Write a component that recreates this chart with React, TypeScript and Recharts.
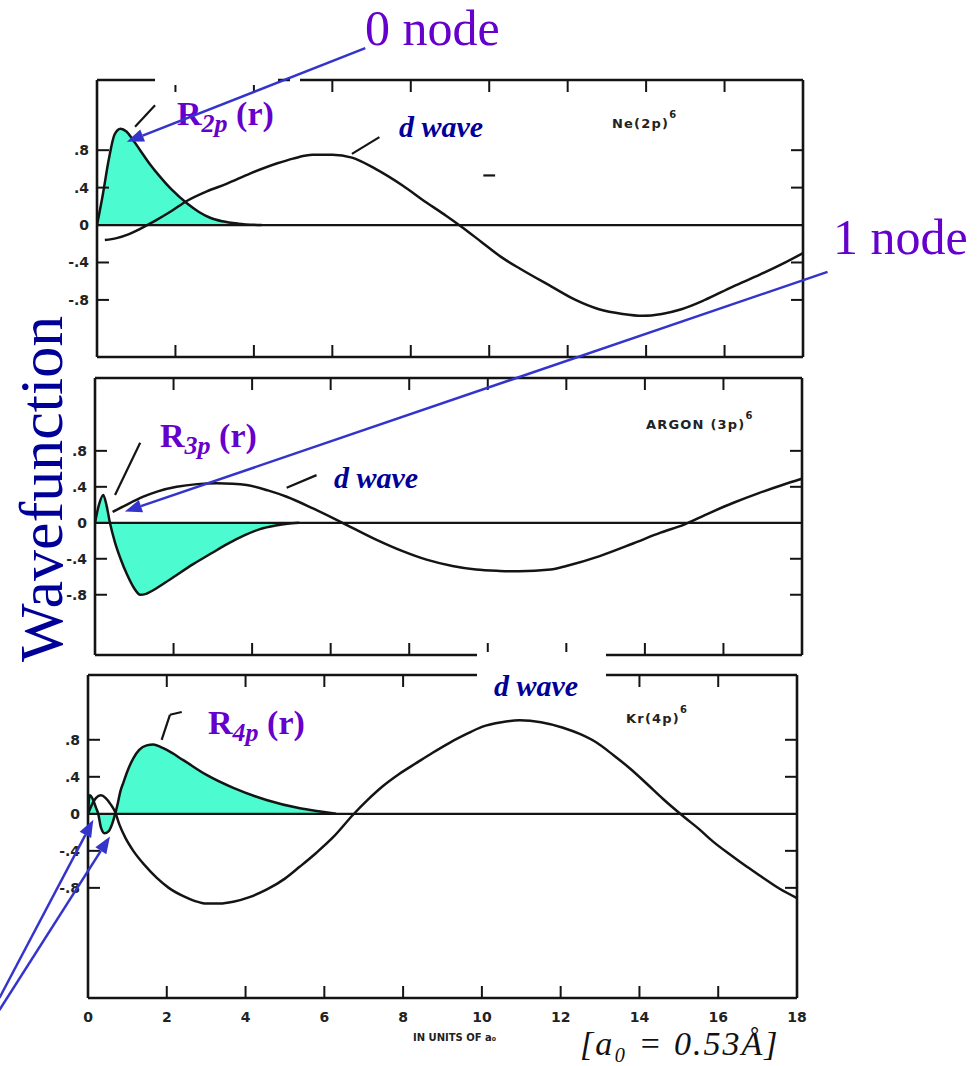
import React from 'react';
import { ComposedChart, Area, Line, XAxis, YAxis, ReferenceLine } from 'recharts';

type Pt = { r: number; v: number };

// ---------- axis ticks ----------
const xTicks = [0, 2, 4, 6, 8, 10, 12, 14, 16, 18];
const xTickLabels = ['0', '2', '4', '6', '8', '10', '12', '14', '16', '18'];
const innerXTicks = [2, 4, 6, 8, 10, 12, 14, 16];
const yTicks = [-0.8, -0.4, 0, 0.4, 0.8];
const yTickLabels = ['-.8', '-.4', '0', '.4', '.8'];
const innerYTicks = [-0.8, -0.4, 0.4, 0.8];

// ---------- Ne (2p)^6 ----------
const r2p: Pt[] = [
  { r: 0, v: 0 }, { r: 0.15, v: 0.33 }, { r: 0.3, v: 0.7 }, { r: 0.45, v: 0.97 }, { r: 0.6, v: 1.03 },
  { r: 0.75, v: 1.0 }, { r: 0.9, v: 0.92 }, { r: 1.1, v: 0.8 }, { r: 1.35, v: 0.65 }, { r: 1.6, v: 0.52 },
  { r: 1.9, v: 0.38 }, { r: 2.3, v: 0.23 }, { r: 2.6, v: 0.14 }, { r: 2.9, v: 0.075 }, { r: 3.2, v: 0.04 },
  { r: 3.6, v: 0.015 }, { r: 4.2, v: 0 },
];
const neDWave: Pt[] = [
  { r: 0.2, v: -0.16 }, { r: 0.5, v: -0.14 }, { r: 0.8, v: -0.1 }, { r: 1.1, v: -0.04 }, { r: 1.5, v: 0.05 },
  { r: 1.9, v: 0.15 }, { r: 2.3, v: 0.26 }, { r: 2.8, v: 0.36 }, { r: 3.3, v: 0.44 }, { r: 3.9, v: 0.55 },
  { r: 4.6, v: 0.66 }, { r: 5.0, v: 0.71 }, { r: 5.5, v: 0.75 }, { r: 6.0, v: 0.75 }, { r: 6.5, v: 0.72 },
  { r: 7.1, v: 0.6 }, { r: 7.8, v: 0.42 }, { r: 8.4, v: 0.24 }, { r: 8.9, v: 0.1 }, { r: 9.3, v: -0.02 },
  { r: 9.8, v: -0.18 }, { r: 10.3, v: -0.34 }, { r: 10.8, v: -0.47 }, { r: 11.6, v: -0.66 }, { r: 12.2, v: -0.8 },
  { r: 12.8, v: -0.9 }, { r: 13.4, v: -0.95 }, { r: 13.9, v: -0.97 }, { r: 14.4, v: -0.95 }, { r: 14.9, v: -0.9 },
  { r: 15.5, v: -0.8 }, { r: 16.2, v: -0.66 }, { r: 16.9, v: -0.53 }, { r: 17.5, v: -0.41 }, { r: 18, v: -0.3 },
];
const neMarks: Pt[][] = [
  [{ r: 0.97, v: 1.05 }, { r: 1.48, v: 1.28 }],
  [{ r: 6.5, v: 0.76 }, { r: 7.2, v: 0.94 }],
  [{ r: 9.85, v: 0.53 }, { r: 10.15, v: 0.53 }],
];
const neArrows: Pt[][] = [[{ r: 6.84, v: 1.89 }, { r: 0.76, v: 0.89 }]];

// ---------- Argon (3p)^6 ----------
const r3p: Pt[] = [
  { r: 0, v: 0 }, { r: 0.1, v: 0.2 }, { r: 0.21, v: 0.31 }, { r: 0.3, v: 0.18 }, { r: 0.38, v: 0 },
  { r: 0.51, v: -0.22 }, { r: 0.65, v: -0.4 }, { r: 0.81, v: -0.57 }, { r: 1.0, v: -0.73 }, { r: 1.15, v: -0.8 },
  { r: 1.3, v: -0.79 }, { r: 1.48, v: -0.75 }, { r: 1.91, v: -0.63 }, { r: 2.5, v: -0.46 }, { r: 3.0, v: -0.33 },
  { r: 3.35, v: -0.24 }, { r: 3.8, v: -0.14 }, { r: 4.2, v: -0.07 }, { r: 4.6, v: -0.03 }, { r: 4.9, v: -0.01 },
  { r: 5.2, v: 0 },
];
const arDWave: Pt[] = [
  { r: 0.45, v: 0.12 }, { r: 0.8, v: 0.2 }, { r: 1.23, v: 0.29 }, { r: 1.6, v: 0.35 }, { r: 2.08, v: 0.4 },
  { r: 2.6, v: 0.43 }, { r: 3.1, v: 0.44 }, { r: 3.5, v: 0.435 }, { r: 3.86, v: 0.42 }, { r: 4.4, v: 0.36 },
  { r: 4.88, v: 0.29 }, { r: 5.55, v: 0.16 }, { r: 6.3, v: 0.0 }, { r: 7.17, v: -0.19 }, { r: 7.8, v: -0.31 },
  { r: 8.44, v: -0.41 }, { r: 9.1, v: -0.48 }, { r: 9.7, v: -0.52 }, { r: 10.3, v: -0.535 }, { r: 10.8, v: -0.54 },
  { r: 11.6, v: -0.52 }, { r: 12.0, v: -0.48 }, { r: 12.85, v: -0.37 }, { r: 13.7, v: -0.23 }, { r: 14.4, v: -0.11 },
  { r: 15.0, v: -0.02 }, { r: 15.6, v: 0.1 }, { r: 16.24, v: 0.22 }, { r: 16.9, v: 0.33 }, { r: 17.5, v: 0.42 },
  { r: 18, v: 0.49 },
];
const arMarks: Pt[][] = [
  [{ r: 0.51, v: 0.31 }, { r: 1.15, v: 0.89 }],
  [{ r: 4.88, v: 0.39 }, { r: 5.64, v: 0.53 }],
];
const arArrows: Pt[][] = [[{ r: 18.65, v: 2.79 }, { r: 0.76, v: 0.125 }]];

// ---------- Kr (4p)^6 ----------
const r4p: Pt[] = [
  { r: 0, v: 0 }, { r: 0.04, v: 0.2 }, { r: 0.12, v: 0.16 }, { r: 0.2, v: 0.07 }, { r: 0.26, v: 0 },
  { r: 0.33, v: -0.15 }, { r: 0.42, v: -0.21 }, { r: 0.52, v: -0.19 }, { r: 0.62, v: -0.1 }, { r: 0.69, v: 0 },
  { r: 0.76, v: 0.12 }, { r: 0.82, v: 0.24 }, { r: 0.9, v: 0.34 }, { r: 1.0, v: 0.46 }, { r: 1.15, v: 0.6 },
  { r: 1.3, v: 0.69 }, { r: 1.49, v: 0.74 }, { r: 1.66, v: 0.75 }, { r: 1.85, v: 0.72 }, { r: 2.0, v: 0.69 },
  { r: 2.42, v: 0.58 }, { r: 3.01, v: 0.42 }, { r: 3.69, v: 0.28 }, { r: 4.53, v: 0.15 }, { r: 5.38, v: 0.06 },
  { r: 5.9, v: 0.025 }, { r: 6.3, v: 0 },
];
const krDWave: Pt[] = [
  { r: 0, v: 0 }, { r: 0.1, v: 0.1 }, { r: 0.2, v: 0.17 }, { r: 0.33, v: 0.2 }, { r: 0.45, v: 0.17 },
  { r: 0.58, v: 0.1 }, { r: 0.69, v: 0.02 }, { r: 0.8, v: -0.12 }, { r: 0.95, v: -0.26 }, { r: 1.15, v: -0.4 },
  { r: 1.45, v: -0.56 }, { r: 1.74, v: -0.69 }, { r: 2.05, v: -0.8 }, { r: 2.42, v: -0.89 }, { r: 2.7, v: -0.94 },
  { r: 3.01, v: -0.97 }, { r: 3.35, v: -0.97 }, { r: 3.69, v: -0.95 }, { r: 4.1, v: -0.9 }, { r: 4.53, v: -0.82 },
  { r: 5.0, v: -0.7 }, { r: 5.38, v: -0.57 }, { r: 5.8, v: -0.42 }, { r: 6.23, v: -0.25 }, { r: 6.73, v: -0.01 },
  { r: 7.1, v: 0.15 }, { r: 7.49, v: 0.3 }, { r: 7.9, v: 0.43 }, { r: 8.34, v: 0.55 }, { r: 8.75, v: 0.66 },
  { r: 9.19, v: 0.77 }, { r: 9.6, v: 0.86 }, { r: 10.0, v: 0.94 }, { r: 10.5, v: 0.99 }, { r: 10.96, v: 1.01 },
  { r: 11.5, v: 0.99 }, { r: 12.06, v: 0.93 }, { r: 12.5, v: 0.86 }, { r: 12.91, v: 0.77 }, { r: 13.35, v: 0.63 },
  { r: 13.76, v: 0.49 }, { r: 14.2, v: 0.32 }, { r: 14.6, v: 0.16 }, { r: 15.15, v: -0.04 }, { r: 15.5, v: -0.16 },
  { r: 15.87, v: -0.3 }, { r: 16.3, v: -0.44 }, { r: 16.72, v: -0.57 }, { r: 17.1, v: -0.68 }, { r: 17.56, v: -0.81 },
  { r: 18, v: -0.91 },
];
const krMarks: Pt[][] = [
  [{ r: 1.87, v: 0.8 }, { r: 2.08, v: 1.07 }],
  [{ r: 2.08, v: 1.07 }, { r: 2.38, v: 1.1 }],
];
const krArrows: Pt[][] = [
  [{ r: -2.25, v: -1.99 }, { r: 0.135, v: -0.065 }],
  [{ r: -2.25, v: -2.12 }, { r: 0.558, v: -0.245 }],
];

// ---------- layout / style ----------
const W = 980;
const H = 1066;
const INK = '#141414';
const CYAN = '#4DFBD1';
const ARROW = '#3434CC';
const PURPLE = '#6600CC';
const NAVY = '#000099';
const Y_LABEL_W = 40;
const X_LABEL_H = 30;

type PanelCfg = {
  left: number; right: number; top: number; bottom: number;
  domain: [number, number]; showX: boolean;
  rData: Pt[]; dData: Pt[]; marks: Pt[][]; arrows: Pt[][];
};

const panels: PanelCfg[] = [
  { left: 97, right: 803, top: 80, bottom: 357, domain: [-1.41, 1.55], showX: false, rData: r2p, dData: neDWave, marks: neMarks, arrows: neArrows },
  { left: 95, right: 802, top: 378, bottom: 655, domain: [-1.47, 1.61], showX: false, rData: r3p, dData: arDWave, marks: arMarks, arrows: arArrows },
  { left: 88, right: 797, top: 675, bottom: 998, domain: [-1.99, 1.5], showX: true, rData: r4p, dData: krDWave, marks: krMarks, arrows: krArrows },
];

function ArrowShape(props: any) {
  const { x1, y1, x2, y2 } = props;
  const ang = Math.atan2(y2 - y1, x2 - x1);
  const len = 17;
  const half = 6.5;
  const bx = x2 - len * Math.cos(ang);
  const by = y2 - len * Math.sin(ang);
  const px = -Math.sin(ang) * half;
  const py = Math.cos(ang) * half;
  return (
    <g>
      <line x1={x1} y1={y1} x2={bx} y2={by} stroke={ARROW} strokeWidth={2.5} />
      <polygon points={`${x2},${y2} ${bx + px},${by + py} ${bx - px},${by - py}`} fill={ARROW} />
    </g>
  );
}

const frameLine = { stroke: INK, strokeWidth: 2.6 };
const tickLineStyle = { stroke: INK, strokeWidth: 2 };
const tickText = { fontSize: 14, fontWeight: 700, fill: '#222', fontFamily: 'DejaVu Sans' };
const blank = () => '';

function PanelChart({ cfg }: { cfg: PanelCfg }) {
  const { left, right, top, bottom, domain, showX, rData, dData, marks } = cfg;
  return (
    <ComposedChart
      width={W}
      height={H}
      margin={{ top, left: left - Y_LABEL_W, right: W - right, bottom: H - bottom - (showX ? X_LABEL_H : 0) }}
    >
      <XAxis
        xAxisId={0}
        type="number"
        dataKey="r"
        domain={[0, 18]}
        ticks={xTicks}
        interval={0}
        tickFormatter={(v: number) => xTickLabels[xTicks.indexOf(v)]}
        hide={!showX}
        height={X_LABEL_H}
        tickLine={false}
        axisLine={false}
        tickSize={0}
        tickMargin={14}
        tick={tickText}
        allowDataOverflow
      />
      <XAxis xAxisId="t" orientation="top" mirror type="number" dataKey="r" domain={[0, 18]} ticks={innerXTicks} interval={0}
        tickFormatter={blank} tickSize={12} axisLine={frameLine} tickLine={tickLineStyle} allowDataOverflow />
      <XAxis xAxisId="b" orientation="bottom" mirror type="number" dataKey="r" domain={[0, 18]} ticks={innerXTicks} interval={0}
        tickFormatter={blank} tickSize={12} axisLine={frameLine} tickLine={tickLineStyle} allowDataOverflow />
      <YAxis
        yAxisId={0}
        type="number"
        domain={domain}
        ticks={yTicks}
        interval={0}
        tickFormatter={(v: number) => yTickLabels[yTicks.indexOf(v)]}
        width={Y_LABEL_W}
        tickLine={false}
        axisLine={false}
        tickSize={0}
        tickMargin={8}
        tick={tickText}
        allowDataOverflow
      />
      <YAxis yAxisId="l" orientation="left" mirror type="number" domain={domain} ticks={innerYTicks} interval={0}
        tickFormatter={blank} tickSize={12} axisLine={frameLine} tickLine={tickLineStyle} allowDataOverflow />
      <YAxis yAxisId="rr" orientation="right" mirror type="number" domain={domain} ticks={innerYTicks} interval={0}
        tickFormatter={blank} tickSize={12} axisLine={frameLine} tickLine={tickLineStyle} allowDataOverflow />
      <ReferenceLine y={0} stroke={INK} strokeWidth={2.2} />
      {/* invisible carriers so the frame axes get their ticks */}
      <Line xAxisId="t" yAxisId="l" data={rData} dataKey="v" stroke="none" dot={false} activeDot={false} isAnimationActive={false} />
      <Line xAxisId="b" yAxisId="rr" data={rData} dataKey="v" stroke="none" dot={false} activeDot={false} isAnimationActive={false} />
      <Area
        data={rData}
        dataKey="v"
        type="monotone"
        baseValue={0}
        fill={CYAN}
        fillOpacity={1}
        stroke={INK}
        strokeWidth={2.5}
        dot={false}
        activeDot={false}
        isAnimationActive={false}
      />
      <Line
        data={dData}
        dataKey="v"
        type="monotone"
        stroke={INK}
        strokeWidth={2.5}
        dot={false}
        activeDot={false}
        isAnimationActive={false}
      />
      {marks.map((m, i) => (
        <ReferenceLine
          key={`m${i}`}
          segment={[{ x: m[0].r, y: m[0].v }, { x: m[1].r, y: m[1].v }]}
          stroke={INK}
          strokeWidth={2.2}
          ifOverflow="visible"
        />
      ))}
    </ComposedChart>
  );
}

function ArrowChart({ cfg }: { cfg: PanelCfg }) {
  const { left, right, top, bottom, domain, arrows, dData } = cfg;
  return (
    <ComposedChart width={W} height={H} margin={{ top, left, right: W - right, bottom: H - bottom }}>
      <XAxis type="number" dataKey="r" domain={[0, 18]} hide allowDataOverflow />
      <YAxis type="number" domain={domain} hide allowDataOverflow />
      <Line data={dData} dataKey="v" stroke="none" dot={false} activeDot={false} isAnimationActive={false} />
      {arrows.map((a, i) => (
        <ReferenceLine
          key={`a${i}`}
          segment={[{ x: a[0].r, y: a[0].v }, { x: a[1].r, y: a[1].v }]}
          ifOverflow="visible"
          shape={ArrowShape}
        />
      ))}
    </ComposedChart>
  );
}

const layer: React.CSSProperties = { position: 'absolute', left: 0, top: 0 };

function RLabel({ x, y, sub }: { x: number; y: number; sub: string }) {
  return (
    <text x={x} y={y} fontFamily="Liberation Serif" fontWeight={700} fontSize={34} fill={PURPLE}>
      <tspan>R</tspan>
      <tspan fontStyle="italic" fontSize={26} dy={7}>{sub}</tspan>
      <tspan dy={-7}>{' (r)'}</tspan>
    </text>
  );
}

function DWave({ x, y }: { x: number; y: number }) {
  return (
    <text x={x} y={y} fontFamily="Liberation Serif" fontWeight={700} fontStyle="italic" fontSize={30} fill={NAVY}>
      d wave
    </text>
  );
}

function Title({ x, y, main }: { x: number; y: number; main: string }) {
  return (
    <text x={x} y={y} fontFamily="DejaVu Sans" fontWeight={700} fontSize={13} fill="#222" letterSpacing={1.2}>
      <tspan>{main}</tspan>
      <tspan fontSize={10} dy={-10}>6</tspan>
    </text>
  );
}

function Overlay() {
  return (
    <svg width={W} height={H} style={layer}>
      <rect x={155} y={75} width={123} height={10} fill="#fff" />
      <rect x={290} y={75} width={10} height={10} fill="#fff" />
      <rect x={477} y={652} width={129} height={60} fill="#fff" />

      <text x={365} y={45} fontFamily="Liberation Serif" fontSize={50} fill={PURPLE}>0 node</text>
      <text x={833} y={254} fontFamily="Liberation Serif" fontSize={50} fill={PURPLE}>1 node</text>

      <RLabel x={177} y={125} sub="2p" />
      <RLabel x={160} y={447} sub="3p" />
      <RLabel x={208} y={734} sub="4p" />

      <DWave x={399} y={137} />
      <DWave x={334} y={488} />
      <DWave x={494} y={696} />

      <Title x={612} y={128} main="Ne(2p)" />
      <Title x={646} y={429} main="ARGON (3p)" />
      <Title x={626} y={723} main="Kr(4p)" />

      <text transform="translate(62,662) rotate(-90)" fontFamily="Liberation Serif" fontSize={62} fill={NAVY}>
        Wavefunction
      </text>

      <text x={413} y={1041} fontFamily="DejaVu Sans" fontWeight={700} fontSize={10} fill="#222">
        IN UNITS OF a₀
      </text>
      <text x={580} y={1055} fontFamily="Liberation Serif" fontStyle="italic" fontSize={34} fill="#111" letterSpacing={2}>
        [a₀ = 0.53Å]
      </text>
    </svg>
  );
}

export default function App() {
  return (
    <div style={{ position: 'absolute', left: 0, top: 0, width: W, height: H, background: '#fff', overflow: 'hidden' }}>
      {panels.map((p, i) => (
        <div key={`p${i}`} style={layer}>
          <PanelChart cfg={p} />
        </div>
      ))}
      <Overlay />
      {panels.map((p, i) => (
        <div key={`a${i}`} style={layer}>
          <ArrowChart cfg={p} />
        </div>
      ))}
    </div>
  );
}
